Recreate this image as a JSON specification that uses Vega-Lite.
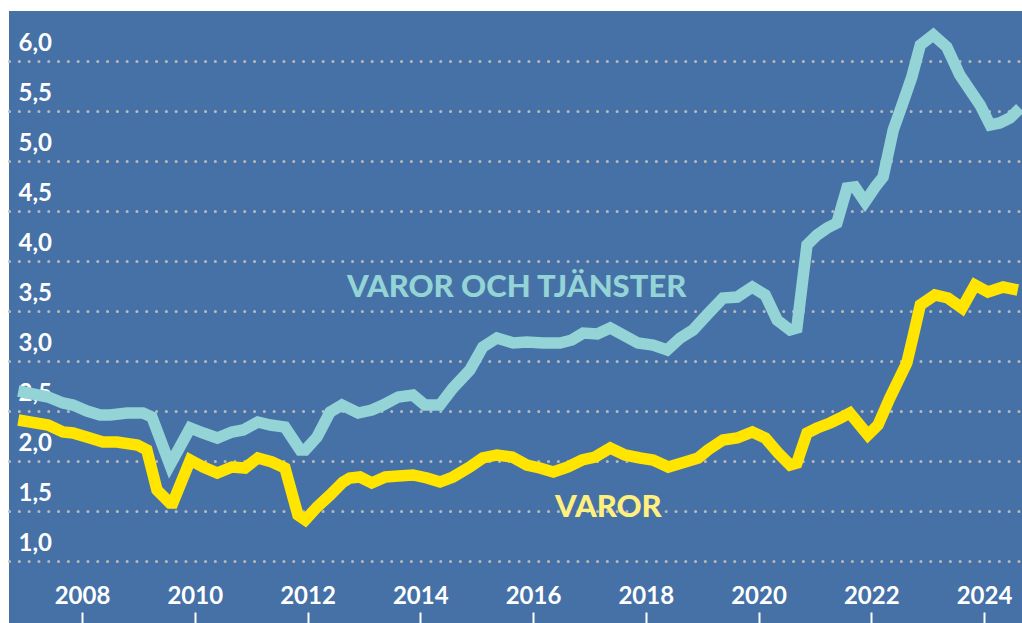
{
  "$schema": "https://vega.github.io/schema/vega-lite/v6.json",
  "width": 1013,
  "height": 612,
  "padding": {"left": 9, "top": 11, "right": 0, "bottom": 0},
  "autosize": {"type": "none"},
  "background": "white",
  "config": {
    "view": {"fill": "#4571a7", "stroke": null},
    "font": "Lato"
  },
  "datasets": {
    "lines": [
      {"series": "total", "year": 2006.87, "value": 2.70},
      {"series": "total", "year": 2007.40, "value": 2.64},
      {"series": "total", "year": 2007.66, "value": 2.58},
      {"series": "total", "year": 2007.84, "value": 2.56},
      {"series": "total", "year": 2008.09, "value": 2.50},
      {"series": "total", "year": 2008.32, "value": 2.46},
      {"series": "total", "year": 2008.50, "value": 2.46},
      {"series": "total", "year": 2008.80, "value": 2.48},
      {"series": "total", "year": 2009.08, "value": 2.48},
      {"series": "total", "year": 2009.24, "value": 2.44},
      {"series": "total", "year": 2009.56, "value": 1.96},
      {"series": "total", "year": 2009.92, "value": 2.33},
      {"series": "total", "year": 2010.15, "value": 2.28},
      {"series": "total", "year": 2010.40, "value": 2.23},
      {"series": "total", "year": 2010.66, "value": 2.29},
      {"series": "total", "year": 2010.86, "value": 2.31},
      {"series": "total", "year": 2011.12, "value": 2.39},
      {"series": "total", "year": 2011.34, "value": 2.36},
      {"series": "total", "year": 2011.60, "value": 2.34},
      {"series": "total", "year": 2011.87, "value": 2.11},
      {"series": "total", "year": 2011.96, "value": 2.11},
      {"series": "total", "year": 2012.17, "value": 2.24},
      {"series": "total", "year": 2012.40, "value": 2.49},
      {"series": "total", "year": 2012.61, "value": 2.56},
      {"series": "total", "year": 2012.90, "value": 2.48},
      {"series": "total", "year": 2013.14, "value": 2.51},
      {"series": "total", "year": 2013.34, "value": 2.56},
      {"series": "total", "year": 2013.61, "value": 2.64},
      {"series": "total", "year": 2013.87, "value": 2.66},
      {"series": "total", "year": 2014.08, "value": 2.56},
      {"series": "total", "year": 2014.35, "value": 2.56},
      {"series": "total", "year": 2014.58, "value": 2.73},
      {"series": "total", "year": 2014.88, "value": 2.91},
      {"series": "total", "year": 2015.11, "value": 3.14},
      {"series": "total", "year": 2015.36, "value": 3.23},
      {"series": "total", "year": 2015.65, "value": 3.18},
      {"series": "total", "year": 2015.89, "value": 3.19},
      {"series": "total", "year": 2016.18, "value": 3.18},
      {"series": "total", "year": 2016.48, "value": 3.18},
      {"series": "total", "year": 2016.69, "value": 3.21},
      {"series": "total", "year": 2016.89, "value": 3.28},
      {"series": "total", "year": 2017.14, "value": 3.27},
      {"series": "total", "year": 2017.37, "value": 3.33},
      {"series": "total", "year": 2017.60, "value": 3.26},
      {"series": "total", "year": 2017.86, "value": 3.18},
      {"series": "total", "year": 2018.13, "value": 3.16},
      {"series": "total", "year": 2018.38, "value": 3.11},
      {"series": "total", "year": 2018.61, "value": 3.23},
      {"series": "total", "year": 2018.84, "value": 3.31},
      {"series": "total", "year": 2019.10, "value": 3.47},
      {"series": "total", "year": 2019.37, "value": 3.63},
      {"series": "total", "year": 2019.62, "value": 3.64},
      {"series": "total", "year": 2019.89, "value": 3.74},
      {"series": "total", "year": 2020.12, "value": 3.66},
      {"series": "total", "year": 2020.33, "value": 3.41},
      {"series": "total", "year": 2020.56, "value": 3.31},
      {"series": "total", "year": 2020.68, "value": 3.33},
      {"series": "total", "year": 2020.86, "value": 4.16},
      {"series": "total", "year": 2021.04, "value": 4.26},
      {"series": "total", "year": 2021.22, "value": 4.33},
      {"series": "total", "year": 2021.39, "value": 4.38},
      {"series": "total", "year": 2021.57, "value": 4.73},
      {"series": "total", "year": 2021.71, "value": 4.74},
      {"series": "total", "year": 2021.89, "value": 4.59},
      {"series": "total", "year": 2022.07, "value": 4.74},
      {"series": "total", "year": 2022.21, "value": 4.84},
      {"series": "total", "year": 2022.39, "value": 5.31},
      {"series": "total", "year": 2022.56, "value": 5.58},
      {"series": "total", "year": 2022.72, "value": 5.84},
      {"series": "total", "year": 2022.87, "value": 6.16},
      {"series": "total", "year": 2023.10, "value": 6.26},
      {"series": "total", "year": 2023.34, "value": 6.14},
      {"series": "total", "year": 2023.57, "value": 5.86},
      {"series": "total", "year": 2023.75, "value": 5.71},
      {"series": "total", "year": 2023.93, "value": 5.56},
      {"series": "total", "year": 2024.11, "value": 5.36},
      {"series": "total", "year": 2024.28, "value": 5.38},
      {"series": "total", "year": 2024.46, "value": 5.43},
      {"series": "total", "year": 2024.64, "value": 5.53},
      {"series": "varor", "year": 2006.87, "value": 2.41},
      {"series": "varor", "year": 2007.40, "value": 2.36},
      {"series": "varor", "year": 2007.66, "value": 2.29},
      {"series": "varor", "year": 2007.84, "value": 2.28},
      {"series": "varor", "year": 2008.14, "value": 2.23},
      {"series": "varor", "year": 2008.37, "value": 2.19},
      {"series": "varor", "year": 2008.62, "value": 2.19},
      {"series": "varor", "year": 2008.98, "value": 2.16},
      {"series": "varor", "year": 2009.15, "value": 2.11},
      {"series": "varor", "year": 2009.33, "value": 1.71},
      {"series": "varor", "year": 2009.56, "value": 1.58},
      {"series": "varor", "year": 2009.61, "value": 1.58},
      {"series": "varor", "year": 2009.92, "value": 2.01},
      {"series": "varor", "year": 2010.15, "value": 1.94},
      {"series": "varor", "year": 2010.40, "value": 1.88},
      {"series": "varor", "year": 2010.66, "value": 1.94},
      {"series": "varor", "year": 2010.89, "value": 1.93},
      {"series": "varor", "year": 2011.12, "value": 2.03},
      {"series": "varor", "year": 2011.37, "value": 1.99},
      {"series": "varor", "year": 2011.60, "value": 1.93},
      {"series": "varor", "year": 2011.83, "value": 1.46},
      {"series": "varor", "year": 2011.96, "value": 1.41},
      {"series": "varor", "year": 2012.17, "value": 1.54},
      {"series": "varor", "year": 2012.40, "value": 1.66},
      {"series": "varor", "year": 2012.63, "value": 1.79},
      {"series": "varor", "year": 2012.75, "value": 1.83},
      {"series": "varor", "year": 2012.93, "value": 1.84},
      {"series": "varor", "year": 2013.14, "value": 1.78},
      {"series": "varor", "year": 2013.38, "value": 1.84},
      {"series": "varor", "year": 2013.61, "value": 1.85},
      {"series": "varor", "year": 2013.87, "value": 1.86},
      {"series": "varor", "year": 2014.12, "value": 1.83},
      {"series": "varor", "year": 2014.35, "value": 1.79},
      {"series": "varor", "year": 2014.58, "value": 1.84},
      {"series": "varor", "year": 2014.88, "value": 1.94},
      {"series": "varor", "year": 2015.11, "value": 2.03},
      {"series": "varor", "year": 2015.36, "value": 2.06},
      {"series": "varor", "year": 2015.63, "value": 2.04},
      {"series": "varor", "year": 2015.89, "value": 1.96},
      {"series": "varor", "year": 2016.12, "value": 1.93},
      {"series": "varor", "year": 2016.36, "value": 1.89},
      {"series": "varor", "year": 2016.62, "value": 1.94},
      {"series": "varor", "year": 2016.87, "value": 2.01},
      {"series": "varor", "year": 2017.10, "value": 2.04},
      {"series": "varor", "year": 2017.37, "value": 2.13},
      {"series": "varor", "year": 2017.63, "value": 2.06},
      {"series": "varor", "year": 2017.90, "value": 2.03},
      {"series": "varor", "year": 2018.13, "value": 2.01},
      {"series": "varor", "year": 2018.40, "value": 1.94},
      {"series": "varor", "year": 2018.64, "value": 1.98},
      {"series": "varor", "year": 2018.93, "value": 2.03},
      {"series": "varor", "year": 2019.10, "value": 2.11},
      {"series": "varor", "year": 2019.37, "value": 2.21},
      {"series": "varor", "year": 2019.62, "value": 2.23},
      {"series": "varor", "year": 2019.89, "value": 2.29},
      {"series": "varor", "year": 2020.12, "value": 2.23},
      {"series": "varor", "year": 2020.35, "value": 2.08},
      {"series": "varor", "year": 2020.56, "value": 1.96},
      {"series": "varor", "year": 2020.68, "value": 1.98},
      {"series": "varor", "year": 2020.86, "value": 2.28},
      {"series": "varor", "year": 2021.04, "value": 2.33},
      {"series": "varor", "year": 2021.27, "value": 2.38},
      {"series": "varor", "year": 2021.45, "value": 2.43},
      {"series": "varor", "year": 2021.62, "value": 2.48},
      {"series": "varor", "year": 2021.94, "value": 2.26},
      {"series": "varor", "year": 2022.12, "value": 2.36},
      {"series": "varor", "year": 2022.33, "value": 2.63},
      {"series": "varor", "year": 2022.51, "value": 2.84},
      {"series": "varor", "year": 2022.63, "value": 2.98},
      {"series": "varor", "year": 2022.74, "value": 3.24},
      {"series": "varor", "year": 2022.87, "value": 3.56},
      {"series": "varor", "year": 2023.13, "value": 3.66},
      {"series": "varor", "year": 2023.36, "value": 3.63},
      {"series": "varor", "year": 2023.61, "value": 3.53},
      {"series": "varor", "year": 2023.84, "value": 3.76},
      {"series": "varor", "year": 2024.07, "value": 3.69},
      {"series": "varor", "year": 2024.34, "value": 3.74},
      {"series": "varor", "year": 2024.60, "value": 3.71}
    ],
    "labels": [
      {"series": "total", "text": "VAROR OCH TJÄNSTER", "year": 2012.70, "value": 3.73},
      {"series": "varor", "text": "VAROR", "year": 2016.39, "value": 1.53}
    ]
  },
  "layer": [
    {
      "data": {"name": "lines"},
      "mark": {"type": "line", "strokeWidth": 11.5, "strokeJoin": "miter", "clip": true},
      "encoding": {
        "x": {
          "field": "year", "type": "quantitative",
          "scale": {"domain": [2006.705, 2024.674], "nice": false, "zero": false},
          "axis": {
            "orient": "bottom",
            "values": [2008, 2010, 2012, 2014, 2016, 2018, 2020, 2022, 2024],
            "format": "d",
            "title": null,
            "domain": false,
            "grid": false,
            "ticks": true,
            "tickSize": -11,
            "tickColor": "white",
            "tickWidth": 2,
            "labelPadding": -16,
            "labelBaseline": "middle",
            "labelColor": "white",
            "labelFont": "Lato",
            "labelFontWeight": "bold",
            "labelFontSize": 24,
            "labelFlush": false
          }
        },
        "y": {
          "field": "value", "type": "quantitative",
          "scale": {"domain": [0.38, 6.5], "nice": false, "zero": false},
          "axis": {
            "orient": "left",
            "values": [1, 1.5, 2, 2.5, 3, 3.5, 4, 4.5, 5, 5.5, 6],
            "labelExpr": "replace(format(datum.value, '.1f'), '.', ',')",
            "title": null,
            "domain": false,
            "ticks": false,
            "tickSize": 0,
            "labelAlign": "left",
            "labelBaseline": "middle",
            "labelPadding": -9,
            "labelOffset": -18,
            "labelColor": "white",
            "labelFont": "Lato",
            "labelFontWeight": "bold",
            "labelFontSize": 24,
            "grid": true,
            "gridColor": "#b9b9bb",
            "gridWidth": 3,
            "gridCap": "round",
            "gridDash": [0.1, 9.7],
            "labelFlush": false
          }
        },
        "color": {
          "field": "series", "type": "nominal",
          "scale": {"domain": ["total", "varor"], "range": ["#94d3d6", "#ffe500"]},
          "legend": null
        },
        "order": {"field": "year"}
      }
    },
    {
      "data": {"name": "labels"},
      "mark": {"type": "text", "align": "left", "baseline": "middle", "font": "Lato", "fontWeight": 900, "fontSize": 31},
      "encoding": {
        "x": {"field": "year", "type": "quantitative"},
        "y": {"field": "value", "type": "quantitative"},
        "text": {"field": "text"},
        "color": {
          "field": "series", "type": "nominal",
          "scale": {"domain": ["total", "varor"], "range": ["#94d3d6", "#fff07e"]},
          "legend": null
        }
      }
    }
  ],
  "resolve": {"scale": {"color": "independent"}}
}
